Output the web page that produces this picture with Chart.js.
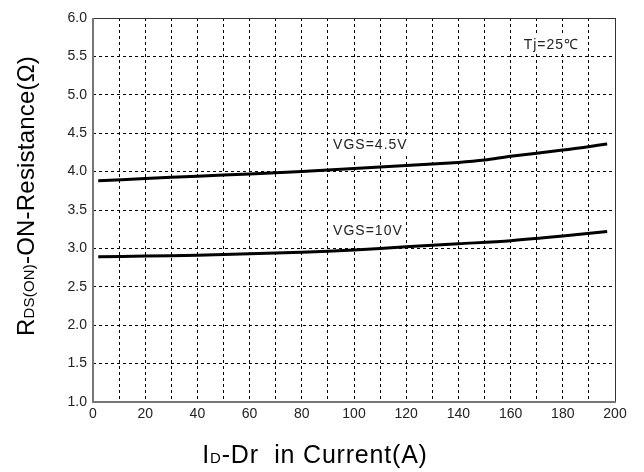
<!DOCTYPE html>
<html>
<head>
<meta charset="utf-8">
<script src="https://cdn.jsdelivr.net/npm/chart.js@4/dist/chart.umd.min.js"></script>
<style>
body { margin: 0; background: #fff; }
</style>
</head>
<body>
<canvas id="myChart" width="644" height="472"></canvas>
<script>
// drain current (A) and on-resistance readings for the two gate voltages
var currentA = [2, 20, 40, 60, 80, 100, 120, 140, 150, 160, 180, 197];
var rdsVgs45 = [3.88, 3.91, 3.94, 3.97, 4.00, 4.04, 4.08, 4.12, 4.15, 4.20, 4.28, 4.36];
var currentB = [2, 20, 40, 60, 80, 100, 120, 140, 160, 180, 197];
var rdsVgs10 = [2.89, 2.90, 2.91, 2.93, 2.95, 2.98, 3.02, 3.06, 3.10, 3.16, 3.22];

var xTickLabels = [0, 20, 40, 60, 80, 100, 120, 140, 160, 180, 200];
var yTickLabels = ["1.0", "1.5", "2.0", "2.5", "3.0", "3.5", "4.0", "4.5", "5.0", "5.5", "6.0"];

var noteText = ["Tj=25\u2103", "VGS=4.5V", "VGS=10V"];
var noteX = [165, 92, 92];
var noteY = [5.65, 4.34, 3.23];

function toPoints(xs, ys) {
	var pts = [];
	for (var i = 0; i < xs.length; i++) {
		pts.push({ x: xs[i], y: ys[i] });
	}
	return pts;
}

var FONT = '"Liberation Sans", Arial, sans-serif';

function drawParts(ctx, parts, cx, cy, spacing) {
	ctx.letterSpacing = spacing + 'px';
	var total = 0;
	for (var j = 0; j < parts.length; j++) {
		ctx.font = parts[j][1];
		total += ctx.measureText(parts[j][0]).width;
	}
	var x = cx - total / 2;
	for (var j = 0; j < parts.length; j++) {
		ctx.font = parts[j][1];
		ctx.fillText(parts[j][0], x, cy);
		x += ctx.measureText(parts[j][0]).width;
	}
	ctx.letterSpacing = '0px';
}

var extras = {
	id: 'extras',
	afterDraw: function(chart) {
		var ctx = chart.ctx;
		var a = chart.chartArea;
		var sx = chart.scales.x, sy = chart.scales.y;
		ctx.save();

		// frame
		ctx.setLineDash([]);
		ctx.strokeStyle = '#333';
		ctx.lineWidth = 1;
		ctx.beginPath();
		ctx.moveTo(a.left, a.top + 0.5);
		ctx.lineTo(a.right + 0.5, a.top + 0.5);
		ctx.lineTo(a.right + 0.5, a.bottom);
		ctx.stroke();
		ctx.strokeStyle = '#777';
		ctx.lineWidth = 2;
		ctx.beginPath();
		ctx.moveTo(a.left, a.top);
		ctx.lineTo(a.left, a.bottom);
		ctx.lineTo(a.right + 1, a.bottom);
		ctx.stroke();

		// notes
		ctx.font = '14px ' + FONT;
		ctx.letterSpacing = '1px';
		ctx.textBaseline = 'middle';
		ctx.textAlign = 'left';
		for (var i = 0; i < noteText.length; i++) {
			var px = sx.getPixelForValue(noteX[i]);
			var py = sy.getPixelForValue(noteY[i]);
			var w = ctx.measureText(noteText[i]).width;
			ctx.fillStyle = '#fff';
			ctx.fillRect(px - 3, py - 9, w + 6, 18);
			ctx.fillStyle = '#222';
			ctx.fillText(noteText[i], px, py);
		}
		ctx.letterSpacing = '0px';

		// axis titles with subscripts
		ctx.fillStyle = '#000';
		ctx.textBaseline = 'alphabetic';
		var big = '24px ' + FONT, small = '15px ' + FONT;
		ctx.translate(34, 196);
		ctx.rotate(-Math.PI / 2);
		drawParts(ctx, [["R", big], ["DS(ON)", small], ["-ON-Resistance(\u03A9)", big]], 0, 0, 0.2);
		ctx.setTransform(1, 0, 0, 1, 0, 0);

		var bigX = '25px ' + FONT, smallX = '15px ' + FONT;
		drawParts(ctx, [["I", bigX], ["D", smallX], ["-Dr  in Current(A)", bigX]], 315, 463, 0.8);
		ctx.restore();
	}
};

var ctx = document.getElementById("myChart");
var myChart = new Chart(ctx, {
	type: 'line',
	data: {
		datasets: [
			{
				label: 'VGS=4.5V',
				data: toPoints(currentA, rdsVgs45),
				borderColor: '#000',
				borderWidth: 3,
				pointRadius: 0,
				tension: 0.3
			}, {
				label: 'VGS=10V',
				data: toPoints(currentB, rdsVgs10),
				borderColor: '#000',
				borderWidth: 3,
				pointRadius: 0,
				tension: 0.3
			}
		]
	},
	options: {
		responsive: false,
		animation: false,
		devicePixelRatio: 1,
		layout: { padding: { left: 0, top: 18, right: 29, bottom: 0 } },
		plugins: {
			legend: { display: false },
			tooltip: { enabled: false }
		},
		scales: {
			x: {
				type: 'linear',
				min: 0,
				max: 200,
				afterFit: function(s) { s.height = 70; },
				border: { display: false, dash: [3, 3] },
				grid: { color: '#000', lineWidth: 1, drawTicks: false },
				ticks: {
					stepSize: 10,
					padding: 4,
					color: '#222',
					font: { family: FONT, size: 14 },
					maxRotation: 0,
					autoSkip: false,
					callback: function(v) {
						return xTickLabels.indexOf(v) >= 0 ? String(v) : '';
					}
				}
			},
			y: {
				min: 1,
				max: 6,
				afterFit: function(s) { s.width = 93; },
				border: { display: false, dash: [3, 3] },
				grid: { color: '#000', lineWidth: 1, drawTicks: false },
				ticks: {
					stepSize: 0.5,
					padding: 6,
					color: '#222',
					font: { family: FONT, size: 14 },
					callback: function(v, i) {
						return yTickLabels[i];
					}
				}
			}
		}
	},
	plugins: [extras]
});
</script>
</body>
</html>
